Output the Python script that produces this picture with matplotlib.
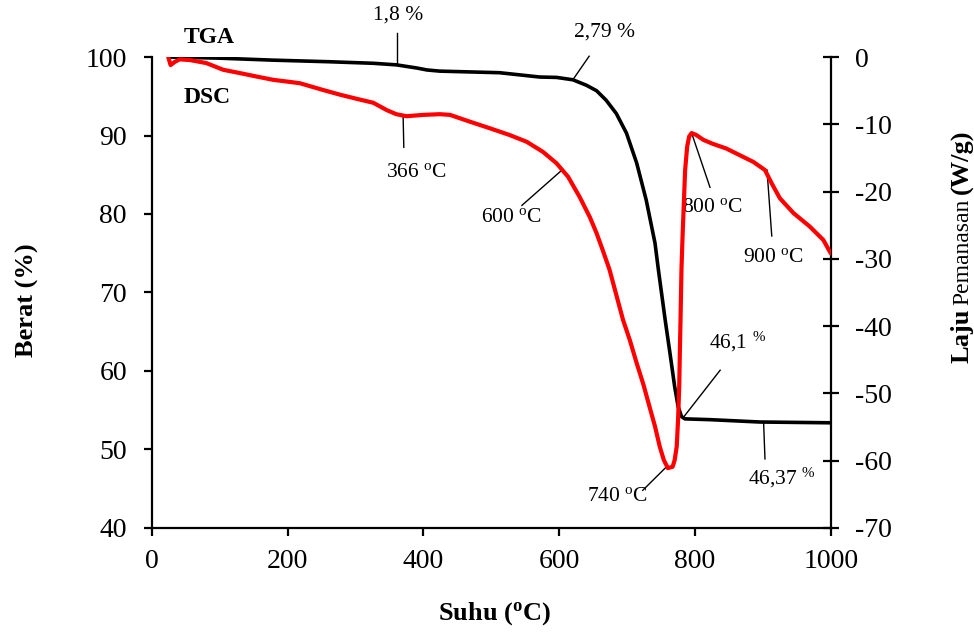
import numpy as np
import matplotlib
matplotlib.use("Agg")
import matplotlib.pyplot as plt

plt.rcParams['font.family'] = ['Liberation Serif', 'DejaVu Serif']
plt.rcParams['mathtext.fontset'] = 'custom'
plt.rcParams['mathtext.rm'] = 'Liberation Serif'
plt.rcParams['mathtext.it'] = 'Liberation Serif:italic'
plt.rcParams['mathtext.bf'] = 'Liberation Serif:bold'
plt.rcParams['axes.unicode_minus'] = False

# TGA curve (left axis, weight %)
tga_temp = [25, 100, 178, 260, 326, 360, 390, 405, 424, 512, 571, 596, 620, 640,
            655, 669, 684, 699, 714, 728, 741, 746, 756, 763, 770, 775, 780, 785,
            822, 895, 1000]
tga_weight = [100, 99.85, 99.6, 99.4, 99.2, 99.0, 98.6, 98.35, 98.2, 98.0, 97.45,
              97.4, 97.1, 96.4, 95.7, 94.5, 92.8, 90.3, 86.5, 81.8, 76.3, 72.9,
              66.5, 62.3, 58.0, 55.5, 54.2, 53.9, 53.8, 53.5, 53.4]

# DSC curve (right axis, W/g)
dsc_temp = [24, 27.5, 34, 41, 56, 80, 105, 130, 154, 179, 203, 218, 252, 277, 301,
            326, 346, 360, 375, 400, 424, 439, 468, 498, 527, 552, 576, 596, 613,
            630, 645, 655, 664, 674, 694, 704, 714, 724, 733, 741, 748, 754, 760,
            767, 770, 773, 775, 776.7, 777.6, 778.6, 780, 781.6, 783.5, 785.4,
            788.4, 791.4, 795, 802, 812, 826, 846, 866, 886, 903, 913, 925, 945,
            969, 989, 1000]
dsc_heat = [0, -1.2, -0.7, -0.35, -0.45, -0.9, -1.9, -2.4, -2.9, -3.4, -3.7, -3.9,
            -4.9, -5.6, -6.2, -6.8, -7.9, -8.5, -8.8, -8.6, -8.5, -8.6, -9.6, -10.6,
            -11.6, -12.6, -14.1, -15.8, -17.8, -20.8, -23.8, -26.2, -28.7, -31.6,
            -39.1, -42.1, -45.5, -48.7, -52.0, -54.9, -57.9, -59.9, -61.1, -60.9,
            -59.9, -57.9, -53.9, -49.0, -44.0, -39.1, -31.6, -26.7, -21.7, -16.8,
            -13.3, -11.8, -11.3, -11.6, -12.3, -12.9, -13.6, -14.6, -15.6, -16.8,
            -18.8, -21.0, -23.2, -25.2, -27.2, -29.2]

x_ticks = [0, 200, 400, 600, 800, 1000]
left_ticks = [40, 50, 60, 70, 80, 90, 100]
right_ticks = [-70, -60, -50, -40, -30, -20, -10, 0]

deg = r'$^{\mathrm{o}}$C'
# (label, text x, text y, line start, line end) in left-axis data units
notes = [
    ('1,8 %', 362, 105.4, (361, 103.1), (361, 99.2)),
    ('366 ' + deg, 390, 85.3, (370, 92.4), (371, 88.5)),
    ('2,79 %', 667, 103.2, (644, 100.1), (620, 97.1)),
    ('600 ' + deg, 530, 79.5, (545, 81.1), (604, 85.6)),
    ('800 ' + deg, 825, 80.8, (795, 90.3), (822, 83.4)),
    ('900 ' + deg, 916, 74.4, (906, 85.6), (913, 77.2)),
    ('46,1 $^{\\%}$', 863, 63.7, (782, 54.0), (837, 60.1)),
    ('46,37 $^{\\%}$', 928, 46.4, (901, 53.4), (903, 48.8)),
    ('740 ' + deg, 685, 44.0, (758, 47.8), (723, 44.8)),
]

W, H = 974, 632
fig = plt.figure(figsize=(9.74, 6.32), dpi=100)
ax = fig.add_axes([0.156, 0.1646, 0.697, 0.7452])
ax2 = ax.twinx()

ax.plot(tga_temp, tga_weight, color='black', lw=2.6, zorder=3,
        solid_joinstyle='round', solid_capstyle='round')
ax2.plot(dsc_temp, dsc_heat, color='#ff0000', lw=3.0, zorder=3,
         solid_joinstyle='round', solid_capstyle='round')

ax.set_xlim(0, 1000)
ax.set_ylim(40, 100)
ax2.set_ylim(-70, 0)
ax.set_xticks(x_ticks)
ax.set_yticks(left_ticks)
ax2.set_yticks(right_ticks)

for a in (ax, ax2):
    a.spines['top'].set_visible(False)
    for s in a.spines.values():
        s.set_linewidth(1.6)
ax.spines['right'].set_visible(False)
ax2.spines['left'].set_visible(False)
ax2.spines['bottom'].set_visible(False)

ax.tick_params(axis='x', direction='out', length=6, width=1.6, labelsize=20, pad=9)
ax.tick_params(axis='y', direction='out', length=6, width=1.6, labelsize=20, pad=12)
ax2.tick_params(axis='y', direction='inout', length=11, width=1.6, labelsize=20, pad=12)

for label, tx, ty, p0, p1 in notes:
    ax.plot([p0[0], p1[0]], [p0[1], p1[1]], color='black', lw=1.0, clip_on=False, zorder=4)
    ax.text(tx, ty, label, fontsize=15.5, ha='center', va='center', clip_on=False)

ax.text(84, 102.5, 'TGA', fontsize=17, fontweight='bold', ha='center', va='center')
ax.text(81, 94.8, 'DSC', fontsize=17, fontweight='bold', ha='center', va='center')

fig.text(27 / W, 1 - 300 / H, 'Berat (%)', rotation=90, fontsize=19,
         fontweight='bold', ha='center', va='center')
fig.text(494 / W, 1 - 614 / H, r'Suhu ($^{\mathbf{o}}$C)', fontsize=19,
         fontweight='bold', ha='center', va='center')

# right label: bold "Laju", smaller regular "Pemanasan", bold "(W/g)"
fig.canvas.draw()
renderer = fig.canvas.get_renderer()
y_px = H - 363
for part, size, weight in [('Laju', 19, 'bold'), ('Pemanasan', 17, 'normal'),
                           ('(W/g)', 19, 'bold')]:
    t = fig.text(968 / W, y_px / H, part, rotation=90, rotation_mode='anchor',
                 ha='left', va='baseline', fontsize=size, fontweight=weight)
    bb = t.get_window_extent(renderer)
    y_px = bb.y1 + 4

fig.savefig('out.png', dpi=100)
